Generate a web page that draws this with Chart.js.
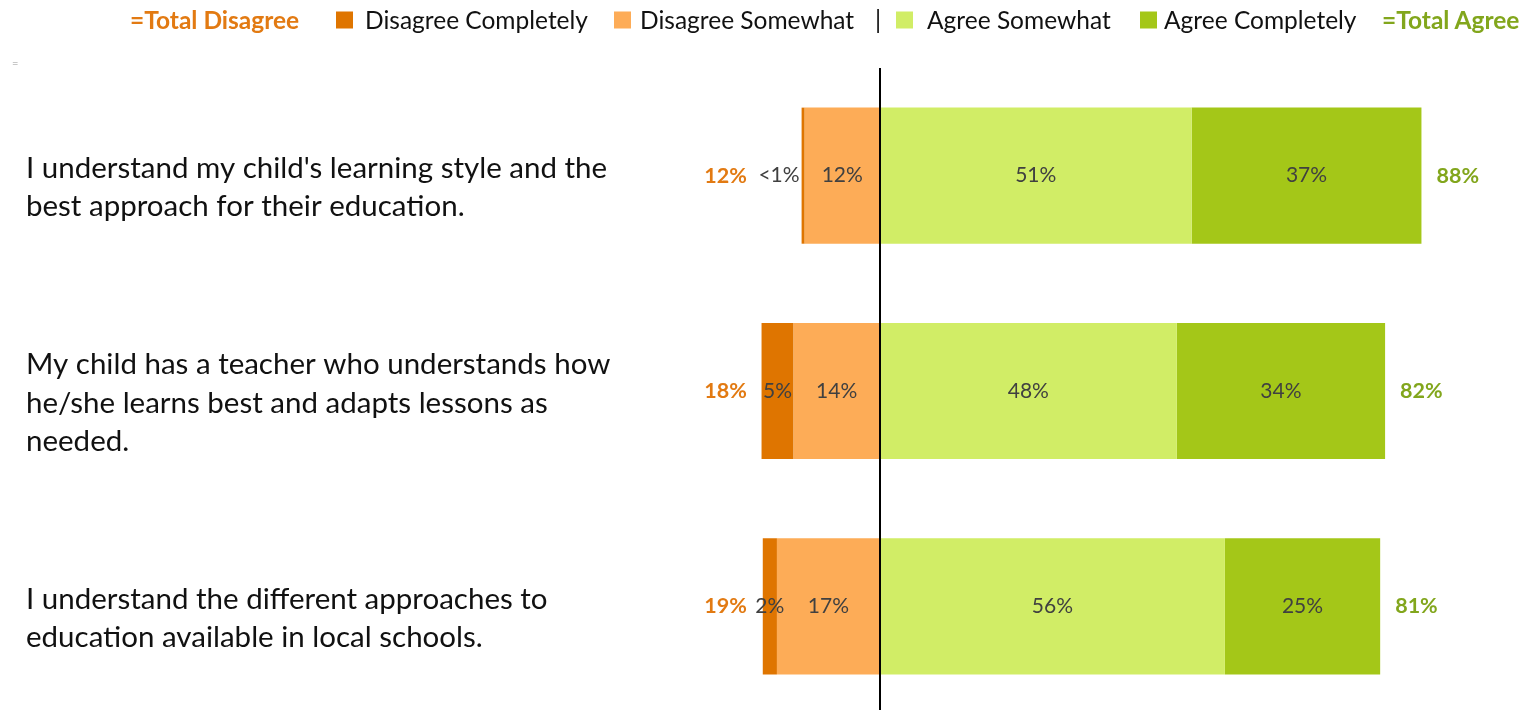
<!DOCTYPE html>
<html lang="en">
<head>
  <meta charset="UTF-8">
  <title>Agreement statements</title>
  <script src="https://cdn.jsdelivr.net/npm/chart.js"></script>
  <style>
    html, body {
      margin: 0;
      padding: 0;
      background: #fff;
      overflow: hidden;
      font-family: Lato, 'Open Sans', sans-serif;
    }
    .wrap {
      position: relative;
      width: 1532px;
      height: 716px;
    }
    .legend span {
      position: absolute;
      top: 20px;
      transform: translateY(-50%);
      font-size: 24.5px;
      color: #111;
      white-space: nowrap;
      line-height: 1;
    }
    .legend .box {
      width: 17px;
      height: 17px;
    }
    .legend .total { font-weight: bold; }
    .stray {
      position: absolute;
      left: 12px;
      top: 56px;
      font-size: 11px;
      color: #c8c8c8;
    }
  </style>
</head>
<body>
  <div class="wrap">
    <div class="legend">
      <span class="total" style="left:130px;color:#e27a12">=Total Disagree</span>
      <span class="box" style="left:336px;background:#df7500"></span>
      <span style="left:365px">Disagree Completely</span>
      <span class="box" style="left:614px;background:#fdac57"></span>
      <span style="left:640px">Disagree Somewhat</span>
      <span style="left:875px">|</span>
      <span class="box" style="left:896px;background:#d1ed66"></span>
      <span style="left:927px">Agree Somewhat</span>
      <span class="box" style="left:1140px;background:#a4c718"></span>
      <span style="left:1164px">Agree Completely</span>
      <span class="total" style="left:1382px;color:#82a61c">=Total Agree</span>
    </div>
    <div class="stray">=</div>
    <canvas id="chart" width="1532" height="716"></canvas>
  </div>

  <script>
    const statements = [
      ["I understand my child's learning style and the", "best approach for their education."],
      ["My child has a teacher who understands how", "he/she learns best and adapts lessons as", "needed."],
      ["I understand the different approaches to", "education available in local schools."]
    ];

    // shares in %
    const disagreeCompletely = [0.5, 5.2, 2.3];
    const disagreeSomewhat = [12.2, 14.0, 16.7];
    const agreeSomewhat = [50.6, 48.2, 56.0];
    const agreeCompletely = [37.3, 33.8, 25.2];

    // the printed labels
    const disagreeCompletelyLabels = ["<1%", "5%", "2%"];
    const disagreeSomewhatLabels = ["12%", "14%", "17%"];
    const agreeSomewhatLabels = ["51%", "48%", "56%"];
    const agreeCompletelyLabels = ["37%", "34%", "25%"];
    const totalDisagreeLabels = ["12%", "18%", "19%"];
    const totalAgreeLabels = ["88%", "82%", "81%"];

    const labelsByDataset = [disagreeSomewhatLabels, disagreeCompletelyLabels, agreeSomewhatLabels, agreeCompletelyLabels];

    const zeroLine = {
      id: 'zeroLine',
      afterDatasetsDraw(chart) {
        const { ctx, chartArea, scales } = chart;
        const x = Math.round(scales.x.getPixelForValue(0));
        ctx.save();
        ctx.strokeStyle = '#000';
        ctx.lineWidth = 2;
        ctx.beginPath();
        ctx.moveTo(x, chartArea.top);
        ctx.lineTo(x, chartArea.bottom + 10);
        ctx.stroke();
        ctx.restore();
      }
    };

    const barLabels = {
      id: 'barLabels',
      afterDatasetsDraw(chart) {
        const ctx = chart.ctx;
        const xs = chart.scales.x;
        ctx.save();
        ctx.textBaseline = 'middle';
        ctx.font = '21px Lato, sans-serif';
        ctx.fillStyle = '#404040';
        chart.data.datasets.forEach((ds, di) => {
          const meta = chart.getDatasetMeta(di);
          meta.data.forEach((bar, i) => {
            const txt = labelsByDataset[di][i];
            const lo = Math.min(bar.x, bar.base);
            const hi = Math.max(bar.x, bar.base);
            if (Math.abs(ds.data[i]) < 1) {
              ctx.textAlign = 'right';
              ctx.fillText(txt, lo - 2, bar.y);
            } else {
              ctx.textAlign = 'center';
              ctx.fillText(txt, (lo + hi) / 2, bar.y);
            }
          });
        });

        // totals
        ctx.font = 'bold 21.5px Lato, sans-serif';
        const agreeMeta = chart.getDatasetMeta(3);
        agreeMeta.data.forEach((bar, i) => {
          ctx.textAlign = 'right';
          ctx.fillStyle = '#e27a12';
          ctx.fillText(totalDisagreeLabels[i], xs.getPixelForValue(-21.6), bar.y);
          ctx.textAlign = 'left';
          ctx.fillStyle = '#82a61c';
          ctx.fillText(totalAgreeLabels[i], bar.x + 15, bar.y);
        });
        ctx.restore();
      }
    };

    const neg = arr => arr.map(v => -v);

    new Chart(document.getElementById('chart'), {
      type: 'bar',
      data: {
        labels: statements,
        datasets: [
          { label: 'Disagree Somewhat', data: neg(disagreeSomewhat), backgroundColor: '#fdac57' },
          { label: 'Disagree Completely', data: neg(disagreeCompletely), backgroundColor: '#df7500' },
          { label: 'Agree Somewhat', data: agreeSomewhat, backgroundColor: '#d1ed66' },
          { label: 'Agree Completely', data: agreeCompletely, backgroundColor: '#a4c718' }
        ]
      },
      options: {
        indexAxis: 'y',
        responsive: false,
        animation: false,
        layout: { padding: { top: 68, bottom: 2, left: 26, right: 36 } },
        datasets: {
          bar: { categoryPercentage: 1, barPercentage: 0.632, borderWidth: 0 }
        },
        scales: {
          x: {
            stacked: true,
            display: false,
            min: -30,
            max: 100
          },
          y: {
            stacked: true,
            grid: { display: false },
            border: { display: false },
            afterFit(scale) {
              scale.width = 669;
              scale.paddingTop = 0;
              scale.paddingBottom = 0;
            },
            ticks: {
              crossAlign: 'far',
              labelOffset: 12,
              color: '#111',
              font: { family: 'Lato, sans-serif', size: 29.5, lineHeight: 1.29 }
            }
          }
        },
        plugins: {
          legend: { display: false },
          tooltip: { enabled: false }
        }
      },
      plugins: [zeroLine, barLabels]
    });
  </script>
</body>
</html>
